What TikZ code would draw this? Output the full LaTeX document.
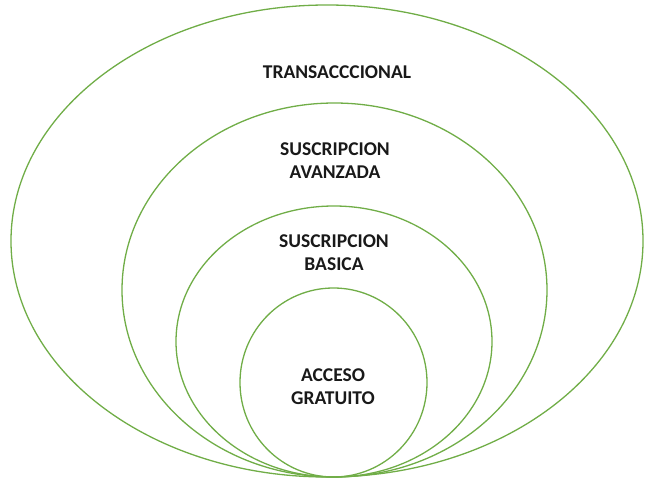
\documentclass[tikz,border=0pt]{standalone}
\usepackage{fontspec}
\setmainfont{Carlito}
\usetikzlibrary{shapes.geometric}
\definecolor{ringgreen}{RGB}{112,173,71}
\tikzset{
  ring/.style={ellipse, draw=ringgreen, line width=1.3pt, inner sep=0pt, outer sep=0pt},
  tier/.style={align=center, font=\fontsize{19.5}{23}\selectfont\bfseries, text=black!90, inner sep=0pt}
}
\begin{document}
\begin{tikzpicture}[x=1pt,y=-1pt]
\useasboundingbox (0,0) rectangle (651,478);
% nested tiers, all touching at the bottom
\node[ring, minimum width=632pt, minimum height=472pt] (outer) at (327,241) {};
\node[ring, minimum width=425pt, minimum height=374pt] (advanced) at (334.5,290) {};
\node[ring, minimum width=316pt, minimum height=271pt] (basic) at (334,341.5) {};
\node[ring, minimum width=187pt, minimum height=189pt] (free) at (333.5,382.5) {};
% tier labels
\node[tier] (tOuter) at (337,72) {TRANSACCCIONAL};
\node[tier] (tAdvanced) at (335,161) {SUSCRIPCION\\AVANZADA};
\node[tier] (tBasic) at (334,253) {SUSCRIPCION\\BASICA};
\node[tier] (tFree) at (333,387) {ACCESO\\GRATUITO};
\end{tikzpicture}
\end{document}
